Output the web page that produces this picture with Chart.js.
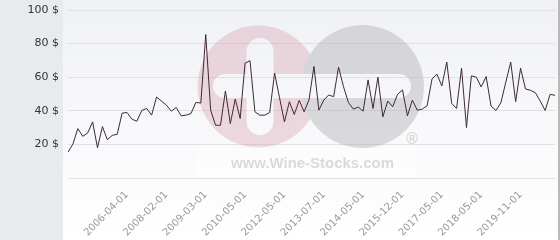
<!DOCTYPE html>
<html><head><meta charset="utf-8">
<script src="https://cdn.jsdelivr.net/npm/chart.js@4.4.1/dist/chart.umd.min.js"></script>
<style>html,body{margin:0;padding:0;background:#fff;overflow:hidden}#wrap{width:560px;height:240px;position:relative}</style>
</head><body><div id="wrap"><canvas id="c" width="560" height="240"></canvas></div>
<script>
const prices = [
  15.4, 20.2, 29.4, 24.8, 26.8, 33.4, 18.0, 30.6, 22.8, 25.4,
  26.0, 38.6, 39.0, 35.0, 33.8, 40.2, 41.4, 37.4, 48.2, 45.8,
  43.4, 39.8, 42.0, 37.0, 37.4, 38.4, 45.0, 44.6, 85.4, 40.4,
  31.4, 31.4, 51.8, 32.4, 47.0, 35.4, 68.4, 69.8, 39.4, 37.4,
  37.4, 39.0, 62.4, 47.8, 33.4, 45.4, 37.8, 46.2, 39.4, 46.6,
  66.4, 40.4, 46.4, 49.4, 48.4, 66.0, 54.4, 45.0, 41.0, 42.2,
  39.8, 58.4, 41.4, 60.0, 36.4, 45.8, 42.4, 49.8, 52.4, 37.0,
  46.4, 40.4, 41.0, 43.0, 59.0, 61.8, 54.8, 69.0, 44.4, 41.4,
  65.4, 30.0, 60.8, 60.0, 54.2, 60.4, 42.8, 40.2, 44.8, 57.0,
  69.0, 45.4, 65.4, 53.0, 52.2, 50.8, 45.8, 40.2, 49.8, 49.2
];
// Dates shown on the x axis (every 8th observation, starting at the 13th)
const tickLabels = [
  '2006-04-01', '2008-02-01', '2009-03-01', '2010-05-01', '2012-05-01',
  '2013-07-01', '2014-05-01', '2015-12-01', '2017-05-01', '2018-05-01', '2019-11-01'
];
const firstLabelIndex = 12;
const labelEvery = 8;
const yMin = 0, yMax = 100, yStep = 20;
const currency = '$';

const categories = prices.map((v, i) => {
  const k = (i - firstLabelIndex) / labelEvery;
  return (i >= firstLabelIndex && Number.isInteger(k) && k < tickLabels.length) ? tickLabels[k] : '';
});

const bgPlugin = {
  id: 'bg',
  beforeDraw(chart) {
    const ctx = chart.ctx, w = chart.width, h = chart.height;
    ctx.save();
    const g = ctx.createLinearGradient(0, 0, 0, h);
    g.addColorStop(0, '#f0f1f5');
    g.addColorStop(1, '#ffffff');
    ctx.fillStyle = g;
    ctx.fillRect(0, 0, w, h);
    ctx.fillStyle = '#e7ebee';
    ctx.fillRect(0, 0, 63, h);
    ctx.fillStyle = '#b9b9b9';
    ctx.fillRect(558, 0, 2, h);
    ctx.restore();
  }
};

const watermarkPlugin = {
  id: 'watermark',
  beforeDatasetsDraw(chart) {
    const ctx = chart.ctx;
    const off = document.createElement('canvas');
    off.width = chart.width; off.height = chart.height;
    const o = off.getContext('2d');
    function rr(x, y, w, h, r) {
      o.beginPath();
      o.moveTo(x + r, y);
      o.arcTo(x + w, y, x + w, y + h, r);
      o.arcTo(x + w, y + h, x, y + h, r);
      o.arcTo(x, y + h, x, y, r);
      o.arcTo(x, y, x + w, y, r);
      o.closePath();
    }
    o.fillStyle = 'rgb(218,165,178)';
    o.beginPath(); o.arc(258.5, 86.5, 61, 0, Math.PI * 2); o.fill();
    o.fillStyle = 'rgb(170,170,174)';
    o.beginPath(); o.arc(362.5, 86.5, 61.5, 0, Math.PI * 2); o.fill();
    o.globalCompositeOperation = 'destination-out';
    o.fillStyle = '#000';
    rr(246.5, 38, 27, 97, 13.5); o.fill();
    rr(213, 74, 198, 24, 12); o.fill();
    o.globalCompositeOperation = 'source-over';
    ctx.save();
    ctx.globalAlpha = 0.4;
    ctx.drawImage(off, 0, 0);
    ctx.restore();

    ctx.save();
    ctx.fillStyle = 'rgba(255,255,255,0.45)';
    ctx.fillRect(197, 148, 219, 30);
    ctx.fillStyle = '#dadada';
    ctx.textAlign = 'center';
    ctx.textBaseline = 'alphabetic';
    let size = 17;
    ctx.font = 'bold ' + size + 'px "Liberation Sans", Arial, sans-serif';
    const mw = ctx.measureText('www.Wine-Stocks.com').width;
    size = size * 163 / mw;
    ctx.font = 'bold ' + size.toFixed(2) + 'px "Liberation Sans", Arial, sans-serif';
    ctx.fillText('www.Wine-Stocks.com', 312.5, 168);
    ctx.fillStyle = '#d2d2d2';
    ctx.font = '15px "DejaVu Sans", sans-serif';
    ctx.fillText('\u00ae', 412, 144);
    ctx.restore();
  }
};

new Chart(document.getElementById('c'), {
  type: 'line',
  data: {
    labels: categories,
    datasets: [{
      data: prices,
      borderColor: '#3e2a33',
      borderWidth: 1,
      pointRadius: 0,
      pointHoverRadius: 0,
      tension: 0,
      fill: false
    }]
  },
  options: {
    responsive: false,
    animation: false,
    devicePixelRatio: 1,
    events: [],
    layout: { padding: { top: 10, right: 5, left: 0, bottom: 0 } },
    plugins: { legend: { display: false }, tooltip: { enabled: false } },
    scales: {
      x: {
        type: 'category',
        offset: false,
        grid: { display: false, drawTicks: false },
        border: { display: false },
        ticks: {
          autoSkip: false,
          maxRotation: 45,
          minRotation: 45,
          padding: 11,
          color: '#999999',
          font: { family: '"DejaVu Sans", sans-serif', size: 10 },
          callback: (v, i) => categories[i]
        },
        afterFit: s => { s.height = 62; s.paddingLeft = 0; s.paddingRight = 0; }
      },
      y: {
        min: yMin,
        max: yMax,
        grid: { color: '#e1e1e4', drawTicks: false, lineWidth: 1 },
        border: { display: false },
        ticks: {
          stepSize: yStep,
          padding: 9,
          color: '#333333',
          font: { family: '"DejaVu Sans", sans-serif', size: 11 },
          callback: v => v === 0 ? '' : v + ' ' + currency
        },
        afterFit: s => { s.width = 68; s.paddingTop = 0; s.paddingBottom = 0; }
      }
    }
  },
  plugins: [bgPlugin, watermarkPlugin]
});
</script>
</body></html>
